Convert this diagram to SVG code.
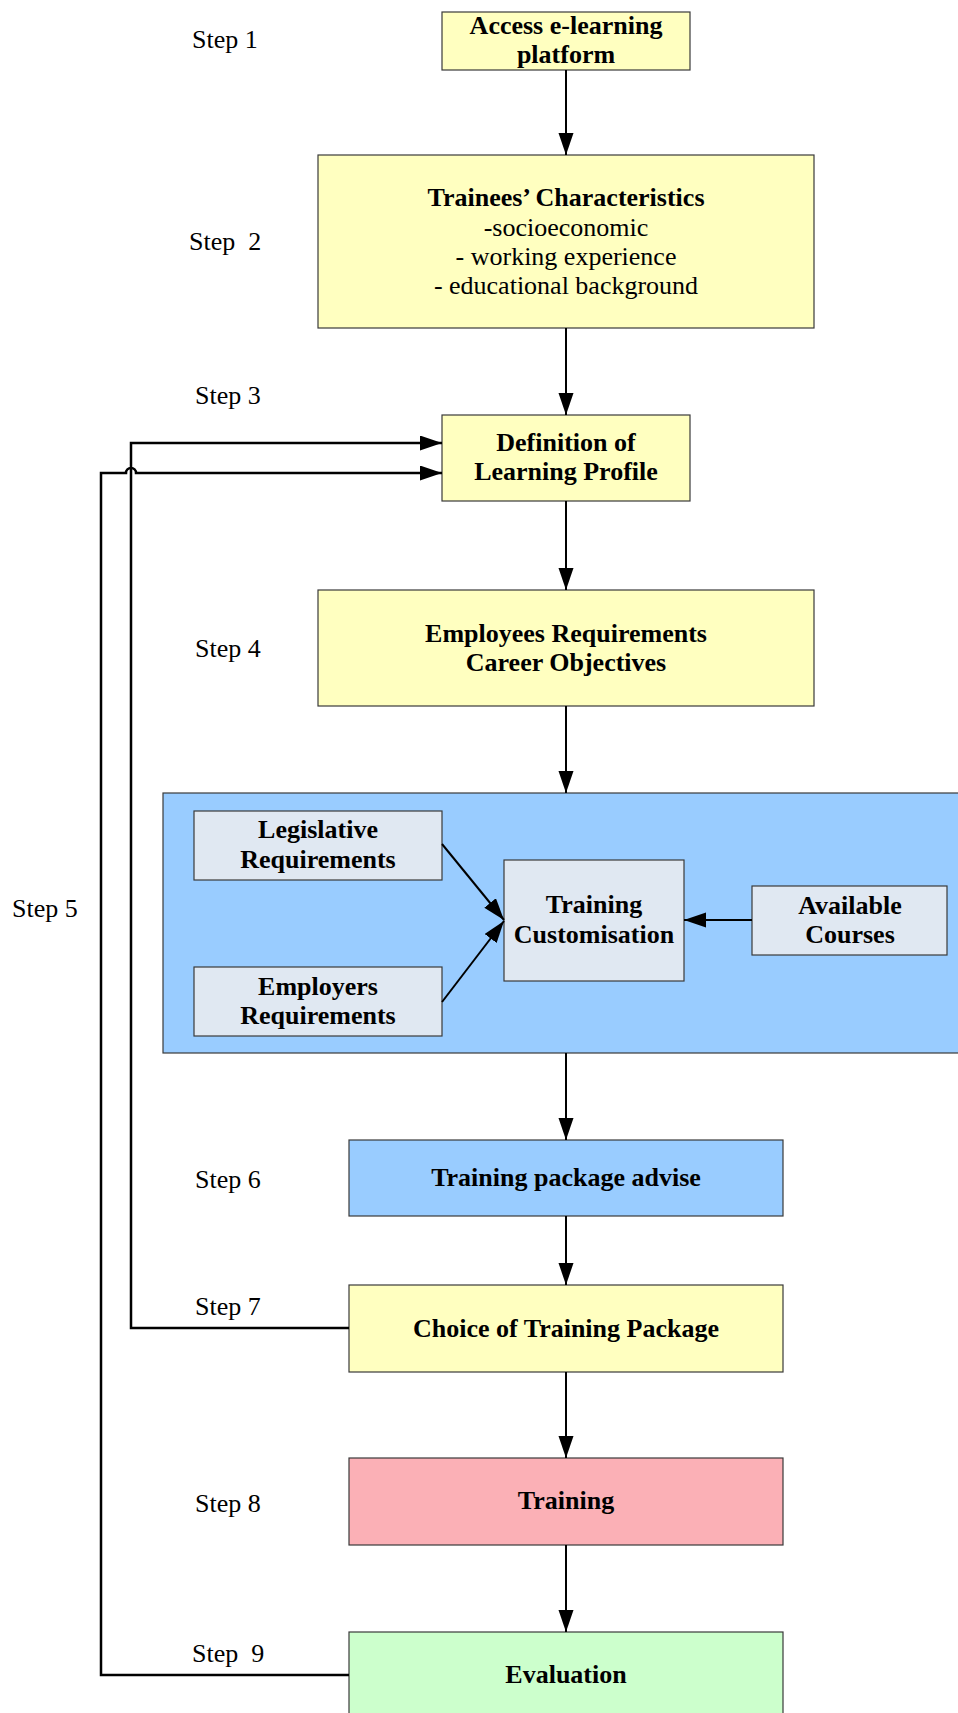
<svg xmlns="http://www.w3.org/2000/svg" width="958" height="1713" viewBox="0 0 958 1713">
<style>
.box{stroke:#3a3a3a;stroke-width:1.2}
.y{fill:#FFFFC0}.b{fill:#99CCFF}.g{fill:#E0E8F2}.p{fill:#FBB0B6}.gr{fill:#CCFFCC}
.t{font-family:"Liberation Serif","Times New Roman",serif;font-size:26px;font-weight:bold;fill:#000;text-anchor:middle}
.r{font-family:"Liberation Serif","Times New Roman",serif;font-size:26px;fill:#000;text-anchor:middle}
.s{font-family:"Liberation Serif","Times New Roman",serif;font-size:26px;fill:#000}
.c{stroke:#000;stroke-width:2;fill:none}
.f{stroke:#000;stroke-width:2.5;fill:none}
</style>
<defs>
<marker id="ah" markerUnits="userSpaceOnUse" markerWidth="24" markerHeight="16" refX="22" refY="7.5" orient="auto">
<path d="M0,0 L22,7.5 L0,15 z" fill="#000"/>
</marker>
</defs>
<rect width="958" height="1713" fill="#fff"/>

<g id="steps">
<text class="s" x="192" y="48">Step 1</text>
<text class="s" x="189" y="250" xml:space="preserve">Step  2</text>
<text class="s" x="195" y="404">Step 3</text>
<text class="s" x="195" y="657">Step 4</text>
<text class="s" x="12" y="917">Step 5</text>
<text class="s" x="195" y="1188">Step 6</text>
<text class="s" x="195" y="1315">Step 7</text>
<text class="s" x="195" y="1512">Step 8</text>
<text class="s" x="192" y="1662" xml:space="preserve">Step  9</text>
</g>

<g id="step5-container">
<rect class="box b" x="163" y="793" width="800" height="260"/>
</g>

<g id="n-access">
<rect class="box y" x="442" y="12" width="248" height="58"/>
<text class="t" x="566" y="34">Access e-learning</text>
<text class="t" x="566" y="63">platform</text>
</g>

<g id="n-trainees">
<rect class="box y" x="318" y="155" width="496" height="173"/>
<text class="t" x="566" y="206">Trainees’ Characteristics</text>
<text class="r" x="566" y="236">-socioeconomic</text>
<text class="r" x="566" y="265">- working experience</text>
<text class="r" x="566" y="294">- educational background</text>
</g>

<g id="n-definition">
<rect class="box y" x="442" y="415" width="248" height="86"/>
<text class="t" x="566" y="451">Definition of</text>
<text class="t" x="566" y="480">Learning Profile</text>
</g>

<g id="n-employees">
<rect class="box y" x="318" y="590" width="496" height="116"/>
<text class="t" x="566" y="642">Employees Requirements</text>
<text class="t" x="566" y="671">Career Objectives</text>
</g>

<g id="n-legislative">
<rect class="box g" x="194" y="811" width="248" height="69"/>
<text class="t" x="318" y="838">Legislative</text>
<text class="t" x="318" y="868">Requirements</text>
</g>

<g id="n-employers">
<rect class="box g" x="194" y="967" width="248" height="69"/>
<text class="t" x="318" y="995">Employers</text>
<text class="t" x="318" y="1024">Requirements</text>
</g>

<g id="n-customisation">
<rect class="box g" x="504" y="860" width="180" height="121"/>
<text class="t" x="594" y="913">Training</text>
<text class="t" x="594" y="943">Customisation</text>
</g>

<g id="n-available">
<rect class="box g" x="752" y="886" width="195" height="69"/>
<text class="t" x="850" y="914">Available</text>
<text class="t" x="850" y="943">Courses</text>
</g>

<g id="n-advise">
<rect class="box b" x="349" y="1140" width="434" height="76"/>
<text class="t" x="566" y="1186">Training package advise</text>
</g>

<g id="n-choice">
<rect class="box y" x="349" y="1285" width="434" height="87"/>
<text class="t" x="566" y="1337">Choice of Training Package</text>
</g>

<g id="n-training">
<rect class="box p" x="349" y="1458" width="434" height="87"/>
<text class="t" x="566" y="1509">Training</text>
</g>

<g id="n-evaluation">
<rect class="box gr" x="349" y="1632" width="434" height="100"/>
<text class="t" x="566" y="1683">Evaluation</text>
</g>

<g id="connectors">
<line class="c" x1="566" y1="70" x2="566" y2="155" marker-end="url(#ah)"/>
<line class="c" x1="566" y1="328" x2="566" y2="415" marker-end="url(#ah)"/>
<line class="c" x1="566" y1="501" x2="566" y2="590" marker-end="url(#ah)"/>
<line class="c" x1="566" y1="706" x2="566" y2="793" marker-end="url(#ah)"/>
<line class="c" x1="566" y1="1053" x2="566" y2="1140" marker-end="url(#ah)"/>
<line class="c" x1="566" y1="1216" x2="566" y2="1285" marker-end="url(#ah)"/>
<line class="c" x1="566" y1="1372" x2="566" y2="1458" marker-end="url(#ah)"/>
<line class="c" x1="566" y1="1545" x2="566" y2="1632" marker-end="url(#ah)"/>
<line class="c" x1="442" y1="844" x2="504" y2="920" marker-end="url(#ah)"/>
<line class="c" x1="442" y1="1002" x2="504" y2="921" marker-end="url(#ah)"/>
<line class="c" x1="752" y1="920" x2="684" y2="920" stroke-width="3" marker-end="url(#ah)"/>
<path class="f" d="M349,1328 L131,1328 L131,443 L442,443" marker-end="url(#ah)"/>
<path class="f" d="M349,1675 L101,1675 L101,473 L126,473 A5,5 0 0 1 136,473 L442,473" marker-end="url(#ah)"/>
</g>
</svg>
